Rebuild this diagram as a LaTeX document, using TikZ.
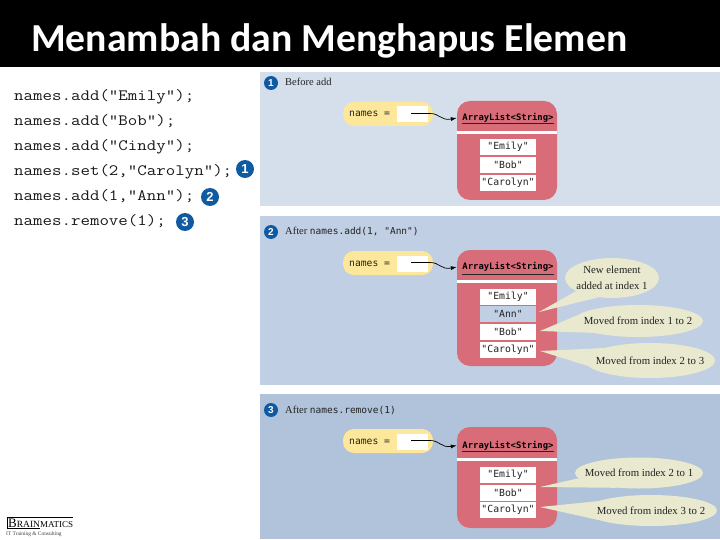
\documentclass[tikz,border=0pt]{standalone}
\usepackage{fontspec}
\setmainfont{Liberation Serif}
\newfontfamily\codefont[FakeStretch=1.165]{Latin Modern Mono}
\newfontfamily\titlefont{Carlito}
\newfontfamily\figmono{DejaVu Sans Mono}
\newfontfamily\sansbadge{Liberation Sans}
\usetikzlibrary{shapes.geometric,arrows.meta}
\definecolor{panelA}{HTML}{D5DFEB}
\definecolor{panelB}{HTML}{C0CFE3}
\definecolor{panelC}{HTML}{B0C3DB}
\definecolor{listred}{HTML}{D86C78}
\definecolor{pillyellow}{HTML}{FDE79A}
\definecolor{calloutfill}{HTML}{E8E9CF}
\definecolor{badgeblue}{HTML}{0F5AA0}
\definecolor{inktext}{HTML}{222222}
\tikzset{
  panelbox/.style={anchor=north west,inner sep=0pt,minimum width=460pt},
  codeline/.style={anchor=base west,inner sep=0pt,font=\codefont\fontsize{15.8}{16}\selectfont,text=black!90},
  badgebig/.style={circle,fill=badgeblue,inner sep=0pt,minimum size=18pt,text=white,font=\sansbadge\bfseries\fontsize{13}{13}\selectfont},
  badgesmall/.style={circle,fill=badgeblue,inner sep=0pt,minimum size=14pt,text=white,font=\sansbadge\bfseries\fontsize{10}{10}\selectfont},
  caption/.style={anchor=base west,inner sep=0pt,text=inktext,font=\fontsize{10.5}{11}\selectfont},
  pill/.style={rounded corners=11pt,fill=pillyellow,minimum width=90pt,minimum height=24pt,inner sep=0pt},
  refslot/.style={fill=white,minimum width=31pt,minimum height=16pt,inner sep=0pt},
  pilltext/.style={anchor=base west,inner sep=0pt,text=inktext,font=\figmono\fontsize{9.7}{10}\selectfont},
  listbox/.style={rounded corners=13pt,fill=listred,minimum width=100pt,inner sep=0pt},
  listhead/.style={inner sep=0pt,text=black,font=\figmono\bfseries\fontsize{8.9}{9}\selectfont},
  headrule/.style={draw=black!85,line width=0.7pt},
  whitebar/.style={fill=white,minimum width=100pt,minimum height=2.5pt,inner sep=0pt},
  cell/.style={fill=white,minimum width=56pt,minimum height=16pt,inner sep=0pt,text=inktext,font=\figmono\fontsize{9.8}{10}\selectfont},
  ptr/.style={draw=black,line width=0.7pt,-{Latex[length=6pt,width=4pt]}},
  callout/.style={ellipse,fill=calloutfill,inner sep=0pt},
  calloutlabel/.style={inner sep=0pt,text=inktext,align=center,font=\fontsize{10.8}{16}\selectfont},
  tail/.style={fill=calloutfill}
}
\begin{document}
\begin{tikzpicture}[x=1pt,y=-1pt]
\useasboundingbox (0,0) rectangle (720,540);
% title
\fill[black] (0,0) rectangle (720,67);
\node[anchor=base west,inner sep=0pt,text=white,font=\titlefont\bfseries\fontsize{39.7}{40}\selectfont] (title) at (31,52) {Menambah dan Menghapus Elemen};
% code
\node[codeline] (c1) at (14,100.5) {names.add("Emily");};
\node[codeline] (c2) at (14,125.5) {names.add("Bob");};
\node[codeline] (c3) at (14,150.5) {names.add("Cindy");};
\node[codeline] (c4) at (14,175.5) {names.set(2,"Carolyn");};
\node[codeline] (c5) at (14,200.5) {names.add(1,"Ann");};
\node[codeline] (c6) at (14,225.5) {names.remove(1);};
\node[badgebig] (b1) at (245,169) {1};
\node[badgebig] (b2) at (210,197) {2};
\node[badgebig] (b3) at (185,222) {3};
% panels
\node[panelbox,fill=panelA,minimum height=134pt] (p1) at (260,72) {};
\node[panelbox,fill=panelB,minimum height=169pt] (p2) at (260,216) {};
\node[panelbox,fill=panelC,minimum height=145pt] (p3) at (260,394) {};
% panel 1
\node[badgesmall] (s1) at (271,83) {1};
\node[caption] (cap1) at (285,86) {Before add};
\node[pill] (n1) at (388,114) {};
\node[pilltext] (nt1) at (349,117) {names =};
\node[refslot] (r1) at (412.5,114.5) {};
\node[listbox,minimum height=99pt] (l1) at (507,150.5) {};
\node[listhead] (h1) at (508,118) {ArrayList<String>};
\draw[headrule] (462,123) -- (554,123);
\node[whitebar] (w1) at (507,132.5) {};
\node[cell] (a1) at (508,147) {"Emily"};
\node[cell] (a2) at (508,165) {"Bob"};
\node[cell] (a3) at (508,183) {"Carolyn"};
\coordinate (o1) at (411,113.5);
\draw[ptr] (o1) -- (430,113.5) .. controls (440,113.5) and (441,121) .. (l1.west |- h1);
% panel 2
\node[badgesmall] (s2) at (271,232) {2};
\node[caption] (cap2) at (285,235) {After {\figmono\fontsize{9.5}{10}\selectfont names.add(1, "Ann")}};
\node[pill] (n2) at (388,263) {};
\node[pilltext] (nt2) at (349,266) {names =};
\node[refslot] (r2) at (412.5,263.5) {};
\node[listbox,minimum height=116pt] (l2) at (507,308) {};
\node[listhead] (h2) at (508,267) {ArrayList<String>};
\draw[headrule] (462,274) -- (554,274);
\node[whitebar] (w2) at (507,281.5) {};
\node[cell] (d1) at (508,297) {"Emily"};
\node[cell,fill=panelB] (d2) at (508,314) {"Ann"};
\node[cell] (d3) at (508,332) {"Bob"};
\node[cell] (d4) at (508,349.5) {"Carolyn"};
\coordinate (o2) at (411,262.5);
\draw[ptr] (o2) -- (430,262.5) .. controls (440,262.5) and (441,270) .. (l2.west |- h2);
\node[callout,minimum width=94pt,minimum height=40pt] (e1) at (612,278) {};
\node[callout,minimum width=130pt,minimum height=32pt] (e2) at (638,321) {};
\node[callout,minimum width=130pt,minimum height=35pt] (e3) at (650,360.5) {};
\coordinate (t1) at (539,312);
\coordinate (t2) at (540,331);
\coordinate (t3) at (540,351);
\fill[tail] (t1) -- (e1.200) -- (e1.235) -- cycle;
\fill[tail] (t2) -- (e2.175) -- (e2.195) -- cycle;
\fill[tail] (t3) -- (e3.165) -- (e3.185) -- cycle;
\node[calloutlabel] (el1) at (e1) {New element\\added at index 1};
\node[calloutlabel] (el2) at (e2) {Moved from index 1 to 2};
\node[calloutlabel] (el3) at (e3) {Moved from index 2 to 3};
% panel 3
\node[badgesmall] (s3) at (271,410) {3};
\node[caption] (cap3) at (285,413) {After {\figmono\fontsize{9.5}{10}\selectfont names.remove(1)}};
\node[pill] (n3) at (388,441) {};
\node[pilltext] (nt3) at (349,444) {names =};
\node[refslot] (r3) at (412.5,441.5) {};
\node[listbox,minimum height=101pt] (l3) at (507,477.5) {};
\node[listhead] (h3) at (508,445.5) {ArrayList<String>};
\draw[headrule] (462,451) -- (554,451);
\node[whitebar] (w3) at (507,459.5) {};
\node[cell] (f1) at (508,475) {"Emily"};
\node[cell] (f2) at (508,492.5) {"Bob"};
\node[cell] (f3) at (508,510) {"Carolyn"};
\coordinate (o3) at (411,440.5);
\draw[ptr] (o3) -- (430,440.5) .. controls (440,440.5) and (441,448) .. (l3.west |- h3);
\node[callout,minimum width=128pt,minimum height=31pt] (g1) at (639,473) {};
\node[callout,minimum width=132pt,minimum height=31pt] (g2) at (651,510.5) {};
\coordinate (t4) at (540,487);
\coordinate (t5) at (540,507);
\fill[tail] (t4) -- (g1.185) -- (g1.215) -- cycle;
\fill[tail] (t5) -- (g2.170) -- (g2.190) -- cycle;
\node[calloutlabel] (gl1) at (g1) {Moved from index 2 to 1};
\node[calloutlabel] (gl2) at (g2) {Moved from index 3 to 2};
% logo
\node[anchor=base west,inner sep=0pt,text=black,font=\fontsize{13}{13}\selectfont] (logo) at (8,527.5) {B{\fontsize{9.5}{10}\selectfont RAIN}{\fontsize{9}{9}\selectfont MATICS}};
\draw[black,line width=0.7pt] (7,529) -- (7,517) -- (73,517);
\fill[black] (7,528) rectangle (40,529);
\node[anchor=base west,inner sep=0pt,text=black!75,font=\fontsize{5.4}{6}\selectfont] (tag) at (6,535) {IT Training \& Consulting};
\end{tikzpicture}
\end{document}
